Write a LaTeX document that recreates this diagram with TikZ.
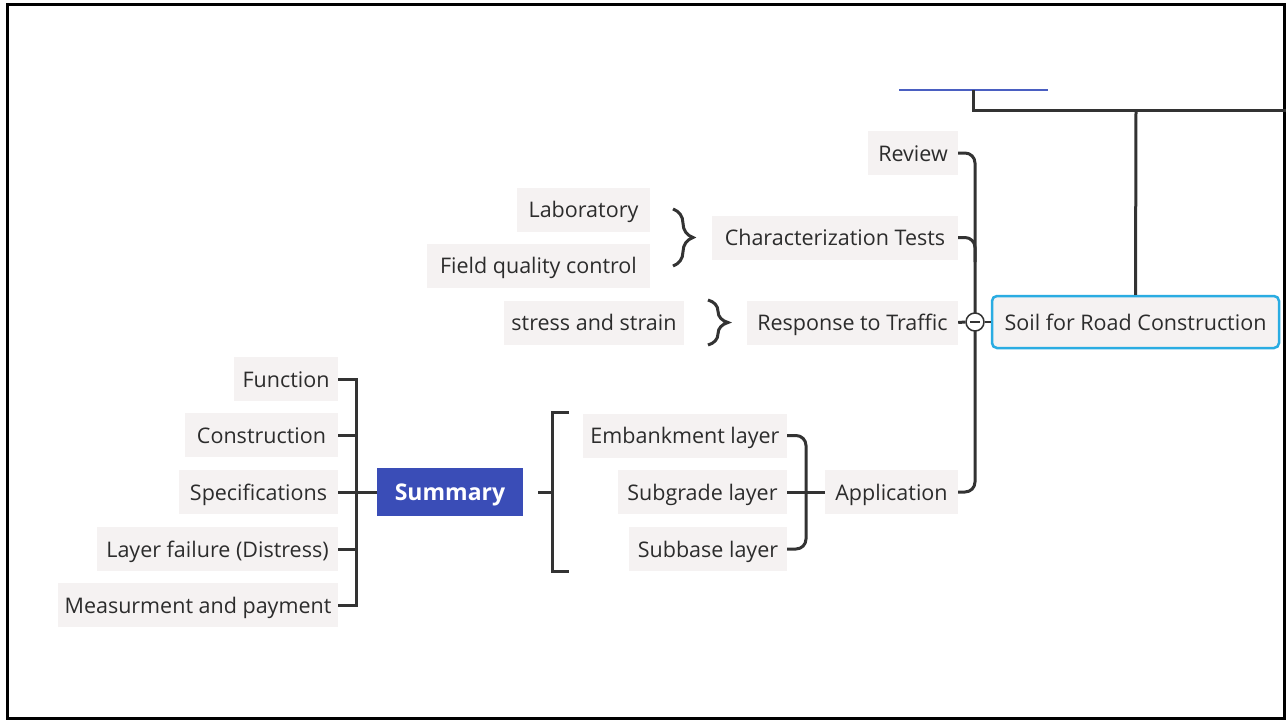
\documentclass[tikz,border=0pt]{standalone}
\usepackage{fontspec}
\setmainfont{Open Sans}
\usetikzlibrary{decorations.pathreplacing}
\definecolor{boxgray}{HTML}{F5F2F2}
\definecolor{txt}{HTML}{2C2C2C}
\definecolor{ln}{HTML}{333333}
\definecolor{sumblue}{HTML}{3A4DB7}
\definecolor{soilblue}{HTML}{2AACE2}
\definecolor{topblue}{HTML}{4A5FC1}
\begin{document}
\begin{tikzpicture}[x=1pt,y=-1pt,
  box/.style={fill=boxgray, inner sep=0pt, minimum height=44pt, text=txt, text height=18pt, text depth=2pt, font=\fontsize{21.5}{24}\selectfont},
  conn/.style={draw=ln, line width=3pt},
  bracestyle/.style={draw=ln, line width=3pt, decorate, decoration={brace, amplitude=20pt}}]
\useasboundingbox (0,0) rectangle (1286,721);
\fill[white] (0,0) rectangle (1286,721);
\draw[line width=3pt] (7,4) rectangle (1284,718);

% nodes
\node[box, minimum width=90pt] (review) at (913,153) {Review};
\node[box, minimum width=246pt] (char) at (835,237.5) {Characterization Tests};
\node[box, minimum width=133pt] (lab) at (583.5,209.5) {Laboratory};
\node[box, minimum width=223pt] (field) at (538.5,265.5) {Field quality control};
\node[box, minimum width=180pt] (stress) at (594,322.5) {stress and strain};
\node[box, minimum width=211pt] (resp) at (852.5,322.5) {Response to Traffic};
\node[box, minimum width=287pt, minimum height=52pt, draw=soilblue, line width=2.5pt, rounded corners=5pt] (soil) at (1135.5,322) {Soil for Road Construction};
\node[box, minimum width=104pt] (function) at (286,379) {Function};
\node[box, minimum width=153pt] (construction) at (261.5,435) {Construction\hspace{0.4em}};
\node[box, minimum width=159pt] (spec) at (258.5,492) {Specifications};
\node[box, minimum width=241pt] (layer) at (217.5,549) {Layer failure (Distress)};
\node[box, minimum width=280pt] (meas) at (198,605) {Measurment and payment};
\node[fill=sumblue, inner sep=0pt, minimum width=146pt, minimum height=48pt, text=white, text height=19pt, text depth=2pt, font=\fontsize{23}{26}\selectfont\bfseries] (summary) at (450,492) {Summary};
\node[box, minimum width=204pt] (emb) at (685,435.5) {Embankment layer};
\node[box, minimum width=169pt] (subg) at (702.5,492) {Subgrade layer};
\node[box, minimum width=158pt] (subb) at (708,549) {Subbase layer};
\node[box, minimum width=133pt] (app) at (891.5,492) {Application};

% coordinates
\coordinate (spb) at (975,492);
\coordinate (spc) at (975,262);
\coordinate (bl1) at (899,90);
\coordinate (bl2) at (1048,90);
\coordinate (bt) at (973,90);
\coordinate (bk) at (973,110);
\coordinate (br) at (1290,110);
\coordinate (bs) at (1136,110);
\coordinate (lb) at (356,605);
\coordinate (lc) at (356,435);
\coordinate (ll) at (356,549);
\coordinate (sa) at (538,492);
\coordinate (sb) at (552,492);
\coordinate (bk1) at (569,412);
\coordinate (bk2) at (552,412);
\coordinate (bk3) at (552,571);
\coordinate (bk4) at (569,571);
\coordinate (ab) at (806,492);

% connectors
\draw[conn, rounded corners=10pt] (review.east) -| (spb) -- (app.east);
\draw[conn, rounded corners=10pt] (char.east) -| (spc);
\node[circle, draw=ln, line width=1.5pt, fill=white, minimum size=18pt, inner sep=0pt] (tog) at (975,322) {};
\draw[conn] (resp.east) -- (tog.west);
\draw[ln, line width=1.5pt] (tog.east) -- (soil.west);
\draw[ln, line width=1.5pt] ([xshift=-5pt]tog.center) -- ([xshift=5pt]tog.center);
\draw[topblue, line width=2.5pt] (bl1) -- (bl2);
\draw[conn] (bt) -- (bk) -- (br);
\draw[conn] (bs) -- (soil.north);
\draw[conn] (function.east) -| (lb) -- (meas.east);
\draw[conn] (construction.east) -- (lc);
\draw[conn] (layer.east) -- (ll);
\draw[conn] (spec.east) -- (summary.west);
\draw[conn] (sa) -- (sb);
\draw[conn] (bk1) -- (bk2) -- (bk3) -- (bk4);
\draw[conn] (app.west) -- (ab);
\draw[conn, rounded corners=10pt] (emb.east) -| (ab) |- (subb.east);
\draw[conn] (subg.east) -- (ab);
\draw[bracestyle] (673,209) -- (673,266);
\draw[bracestyle] (708,300) -- (708,345);
\end{tikzpicture}
\end{document}
